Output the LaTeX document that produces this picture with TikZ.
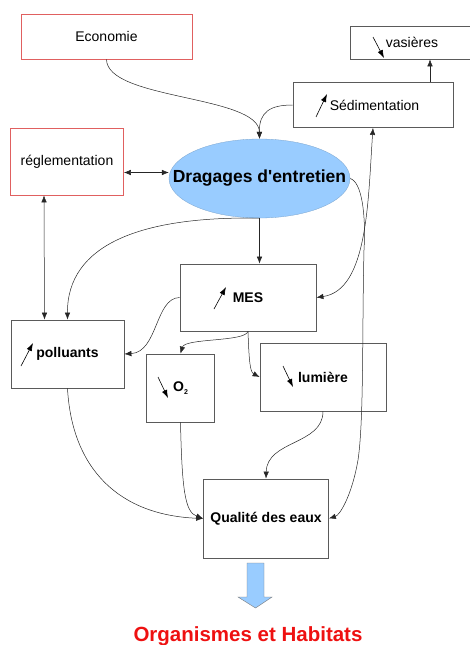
\documentclass[tikz,border=0pt]{standalone}
\usepackage{fontspec}
\setmainfont{Liberation Sans}
\usetikzlibrary{arrows.meta,shapes.geometric}
\definecolor{boxgrey}{HTML}{5A5A5A}
\definecolor{boxred}{HTML}{E06060}
\definecolor{lblue}{HTML}{99CCFF}
\definecolor{titlered}{HTML}{EE1111}
\tikzset{
  box/.style={draw=boxgrey, line width=0.8pt, rectangle, inner sep=0pt, font=\fontsize{14}{16}\selectfont},
  redbox/.style={box, draw=boxred},
  boldbox/.style={box, font=\fontsize{14}{16}\selectfont\bfseries},
  arr/.style={-{Latex[length=7pt,width=5.5pt]}, line width=0.5pt, draw=black!85},
  dbl/.style={{Latex[length=7pt,width=5.5pt]}-{Latex[length=7pt,width=5.5pt]}, line width=0.5pt, draw=black!85},
  ind/.style={-{Latex[length=8pt,width=5.5pt]}, line width=0.6pt}
}
\begin{document}
\begin{tikzpicture}[x=1pt,y=-1pt]
\useasboundingbox (0,0) rectangle (470,645);
% nodes
\node[redbox, minimum width=171pt, minimum height=45pt] (econ) at (106.5,36.5) {Economie};
\node[box, minimum width=121pt, minimum height=33pt] (vas) at (411,42.5) {\hspace*{2pt}vasières};
\node[box, minimum width=160pt, minimum height=45pt] (sed) at (373,105) {\hspace*{3pt}Sédimentation};
\node[redbox, minimum width=113pt, minimum height=67pt] (regl) at (67,161.5) {réglementation};
\node[ellipse, fill=lblue, draw=lblue!80!black, line width=0.3pt, inner sep=0pt, minimum width=181pt, minimum height=79pt, font=\fontsize{17.5}{20}\selectfont\bfseries] (drag) at (259.5,178.5) {\makebox[0pt]{Dragages d\textquotesingle entretien}};
\node[boldbox, minimum width=136pt, minimum height=67pt] (mes) at (248,297.5) {MES};
\node[boldbox, minimum width=113pt, minimum height=68pt] (pol) at (67.5,354) {polluants};
\node[boldbox, minimum width=68pt, minimum height=68pt] (o2) at (180.5,388) {O\raisebox{-0.45ex}{\fontsize{7}{8}\selectfont 2}};
\node[boldbox, minimum width=126pt, minimum height=68pt] (lum) at (323,377) {lumière};
\node[boldbox, minimum width=125pt, minimum height=79pt] (qual) at (266,518.5) {Qualité des eaux};
\node[text=titlered, font=\fontsize{20.5}{24}\selectfont\bfseries] (org) at (248,636) {Organismes et Habitats};
% big arrow
\draw[fill=lblue, draw=boxgrey!80, line width=0.4pt] (247,563) -- (264,563) -- (264,597) -- (272,597) -- (255.5,608) -- (238,597) -- (247,597) -- cycle;
% indicator arrows
\draw[ind] (373,37) -- (384,58);
\draw[ind] (316,117) -- (327,94);
\draw[ind] (214,309) -- (226,287);
\draw[ind] (21,366) -- (33,343);
\draw[ind] (158,377) -- (168,398);
\draw[ind] (283,366) -- (293,387);
% connectors
\draw[arr] (econ.south) .. controls (107,100) and (259,95) .. (drag.north);
\draw[arr] (sed.west) .. controls (270,105) and (259,112) .. (drag.north);
\draw[arr] ([xshift=57pt]sed.north) -- ([xshift=19pt]vas.south);
\draw[dbl] ([yshift=-11pt]regl.east) -- ([yshift=-11pt]regl.east -| drag.west);
\draw[dbl] ([xshift=-23pt]regl.south) -- ([xshift=-23pt]pol.north);
\draw[arr] (drag.south) -- (drag.south |- mes.north);
\draw[arr] (drag.south) .. controls (140,216) and (67,245) .. (pol.north);
\draw[arr] (drag.east) .. controls (362,182) and (366,215) .. (364,250)
  .. controls (362,330) and (364,420) .. (358,460)
  .. controls (352,495) and (340,515) .. (qual.east);
\draw[dbl] (sed.south) .. controls (368,200) and (368,290) .. (mes.east);
\draw[arr] (mes.west) .. controls (155,298) and (158,352) .. (pol.east);
\draw[arr] (mes.south) .. controls (245,342) and (185,338) .. (o2.north);
\draw[arr] (mes.south) .. controls (249,360) and (250,372) .. (lum.west);
\draw[arr] (pol.south) .. controls (72,470) and (120,515) .. (qual.west);
\draw[arr] (o2.south) .. controls (182,490) and (185,512) .. (qual.west);
\draw[arr] (lum.south) .. controls (323,445) and (267,440) .. (qual.north);
\end{tikzpicture}
\end{document}
